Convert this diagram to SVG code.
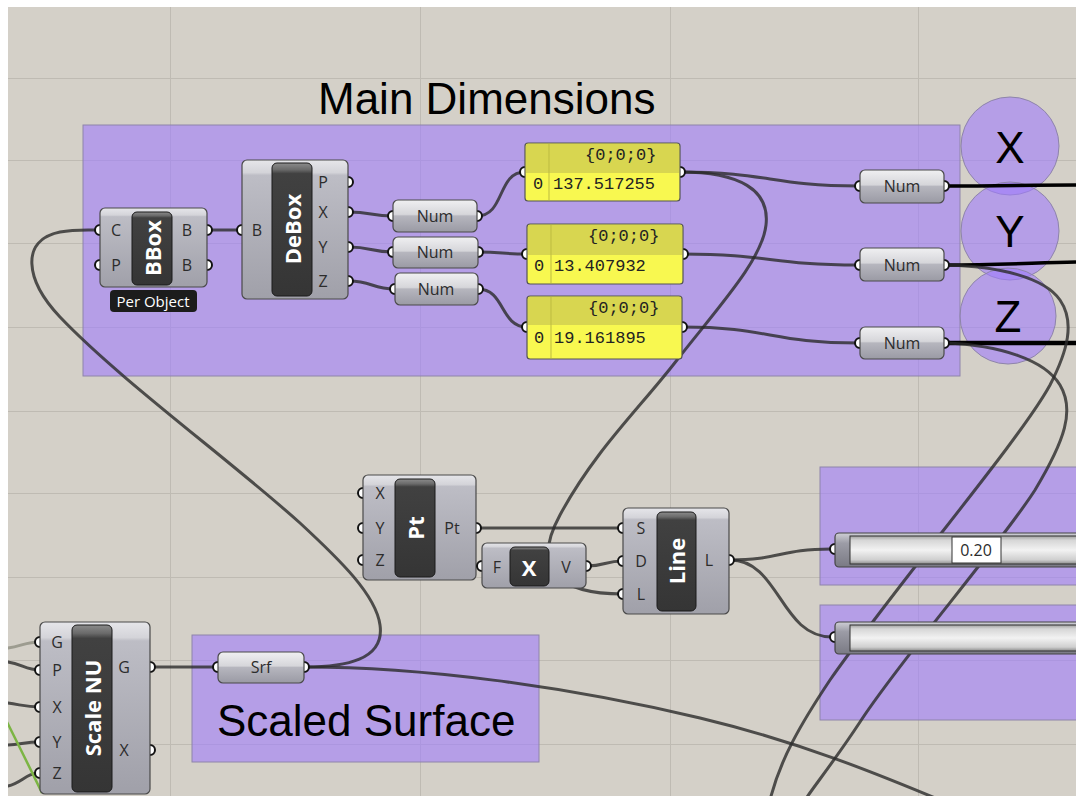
<svg xmlns="http://www.w3.org/2000/svg" width="1076" height="796" viewBox="0 0 1076 796">
<defs>
<linearGradient id="gBody" x1="0" y1="0" x2="0" y2="1">
<stop offset="0" stop-color="#e6e6ea"/><stop offset="0.09" stop-color="#d4d4d9"/><stop offset="0.11" stop-color="#bdbdc5"/><stop offset="1" stop-color="#a0a0a9"/>
</linearGradient>
<linearGradient id="gPill" x1="0" y1="0" x2="0" y2="1">
<stop offset="0" stop-color="#f0f0f2"/><stop offset="0.45" stop-color="#d6d6da"/><stop offset="0.5" stop-color="#b6b6be"/><stop offset="1" stop-color="#9a9aa4"/>
</linearGradient>
<linearGradient id="gCap" x1="0" y1="0" x2="0" y2="1">
<stop offset="0" stop-color="#8c8c8c"/><stop offset="0.05" stop-color="#6a6a6a"/><stop offset="0.08" stop-color="#414141"/><stop offset="1" stop-color="#353535"/>
</linearGradient>
<linearGradient id="gTrack" x1="0" y1="0" x2="0" y2="1">
<stop offset="0" stop-color="#a0a0a0"/><stop offset="0.15" stop-color="#d6d6d6"/><stop offset="0.5" stop-color="#f2f2f2"/><stop offset="0.85" stop-color="#cfcfcf"/><stop offset="1" stop-color="#8c8c8c"/>
</linearGradient>
<linearGradient id="gSCap" x1="0" y1="0" x2="0" y2="1">
<stop offset="0" stop-color="#cfcfd6"/><stop offset="0.3" stop-color="#9c9ca6"/><stop offset="1" stop-color="#7a7a84"/>
</linearGradient>
<style>
.grid{stroke:#bfbbb3;stroke-width:1}
.grp{fill:rgb(160,125,252);fill-opacity:.6;stroke:#8e84aa;stroke-width:1}
.wire{fill:none;stroke:#2a2a2a;stroke-opacity:.8;stroke-width:3;stroke-linecap:round}
.sel{fill:none;stroke:#000;stroke-width:3.5}
.body{fill:url(#gBody);stroke:#4a4a4a;stroke-width:1.2}
.pill{fill:url(#gPill);stroke:#4a4a4a;stroke-width:1.2}
.cap{fill:url(#gCap);stroke:#1a1a1a;stroke-width:1}
.grip{fill:#fff;stroke:#111;stroke-width:2}
.lbl{font-family:"Open Sans","DejaVu Sans",sans-serif;font-size:16px;fill:#2c2c2c;text-anchor:middle;dominant-baseline:central}
.ptxt{font-family:"Open Sans","DejaVu Sans",sans-serif;font-size:16px;fill:#2c2c2c;text-anchor:middle;dominant-baseline:central}
.nick{font-family:"Open Sans","DejaVu Sans",sans-serif;font-weight:bold;font-size:22px;fill:#fff;text-anchor:middle;dominant-baseline:central}
.mono{font-family:"Liberation Mono","Courier New",monospace;font-size:17px;fill:#222}
.big{font-family:"Liberation Sans",Arial,sans-serif;font-size:44px;fill:#000}
.panel{fill:#f8f850;stroke:#555;stroke-width:1.2}
.phead{fill:#d8d650}
</style>
</defs>

<rect x="0" y="0" width="1076" height="796" fill="#d4d0c8"/>
<g id="grid">
<line class="grid" x1="170.5" y1="0" x2="170.5" y2="796"/>
<line class="grid" x1="420.5" y1="0" x2="420.5" y2="796"/>
<line class="grid" x1="670.5" y1="0" x2="670.5" y2="796"/>
<line class="grid" x1="918.5" y1="0" x2="918.5" y2="796"/>
<line class="grid" x1="0" y1="78.5" x2="1076" y2="78.5"/>
<line class="grid" x1="0" y1="160.5" x2="1076" y2="160.5"/>
<line class="grid" x1="0" y1="243.5" x2="1076" y2="243.5"/>
<line class="grid" x1="0" y1="327.5" x2="1076" y2="327.5"/>
<line class="grid" x1="0" y1="411.5" x2="1076" y2="411.5"/>
<line class="grid" x1="0" y1="493.5" x2="1076" y2="493.5"/>
<line class="grid" x1="0" y1="577.5" x2="1076" y2="577.5"/>
<line class="grid" x1="0" y1="660.5" x2="1076" y2="660.5"/>
<line class="grid" x1="0" y1="744.5" x2="1076" y2="744.5"/>
</g>

<g id="group-main-dimensions">
<rect class="grp" x="83" y="125" width="877" height="251"/>
<text class="big" x="318" y="114">Main Dimensions</text>
</g>
<g id="group-x"><circle class="grp" cx="1010" cy="146" r="49"/><text class="big" x="1010" y="147" text-anchor="middle" dominant-baseline="central">X</text></g>
<g id="group-y"><circle class="grp" cx="1010" cy="231" r="49"/><text class="big" x="1010" y="231" text-anchor="middle" dominant-baseline="central">Y</text></g>
<g id="group-z"><circle class="grp" cx="1008" cy="316" r="48"/><text class="big" x="1008" y="316" text-anchor="middle" dominant-baseline="central">Z</text></g>
<g id="group-scaled-surface">
<rect class="grp" x="192" y="635" width="347" height="127"/>
<text class="big" x="217" y="736">Scaled Surface</text>
</g>
<g id="group-slider1"><rect class="grp" x="820" y="467" width="262" height="118"/></g>
<g id="group-slider2"><rect class="grp" x="820" y="605" width="262" height="115"/></g>

<g id="connectors">
<path class="wire" d="M207,230 L242,230"/>
<path class="wire" d="M305,667 C345,667 385,660 380,625 C376,595 340,560 300,523 C230,460 120,380 60,317 C25,280 20,240 60,232 C75,229 90,230 100,230"/>
<path class="wire" d="M349,212 C371,212 371,216 393,216"/>
<path class="wire" d="M349,247 C371,247 371,252 393,252"/>
<path class="wire" d="M349,281 C372,281 372,289 395,289"/>
<path class="wire" d="M477,216 C505,216 497,172 525,172"/>
<path class="wire" d="M478,252 C502,252 503,254 527,254"/>
<path class="wire" d="M478,289 C505,289 500,327 527,327"/>
<path class="wire" d="M680,172 C770,172 770,186 859,186"/>
<path class="wire" d="M683,254 C770,254 770,265 859,265"/>
<path class="wire" d="M682,327 C770,327 770,343 859,343"/>
<path class="wire" d="M680,172 C740,172 770,190 766,225 C762,260 720,305 677,360 C640,408 595,450 560,515 C530,570 560,594 623,594"/>
<path class="sel" d="M945,186 C1000,186 1030,185 1076,185"/>
<path class="sel" d="M945,265 C1000,265 1030,263 1076,262"/>
<path class="sel" d="M945,343 L1076,343" style="stroke-width:4.5"/>
<path class="wire" d="M945,265 C1000,266 1045,278 1060,300 C1075,322 1068,350 1050,385 C1020,440 900,580 830,680 C800,725 780,760 770,800"/>
<path class="wire" d="M945,343 C1000,345 1045,360 1060,385 C1075,410 1065,440 1035,490 C1000,545 900,660 860,722 C835,760 815,785 805,800"/>
<path class="wire" d="M476,528 L623,528"/>
<path class="wire" d="M587,566 C605,566 605,561 623,561"/>
<path class="wire" d="M730,560 C780,560 780,549 831,549"/>
<path class="wire" d="M730,560 C780,560 780,637 832,637"/>
<path class="wire" d="M150,667 L218,667"/>
<path class="wire" d="M305,667 C420,667 560,685 700,718 C800,742 880,775 940,800"/>
<path class="wire" d="M8,648 C22,646 26,642 40,642" style="stroke:#8e8e82"/>
<path class="wire" d="M8,662 C22,664 26,670 40,670"/>
<path class="wire" d="M8,703 C22,705 26,707 40,707"/>
<path class="wire" d="M8,745 C22,744 26,742 40,742"/>
<path class="wire" d="M8,786 C22,783 26,773 40,773"/>
<path d="M7,722 C20,748 32,772 42,793" fill="none" stroke="#7cb544" stroke-width="2.5"/>
</g>

<g id="bbox">
<circle class="grip" cx="100" cy="230" r="5"/><circle class="grip" cx="100" cy="265" r="5"/>
<circle class="grip" cx="207" cy="230" r="5"/><circle class="grip" cx="207" cy="265" r="5"/>
<rect class="body" x="100" y="208" width="107" height="79" rx="5"/>
<rect class="cap" x="132" y="212" width="40" height="73" rx="5"/>
<text class="lbl" x="116" y="230">C</text><text class="lbl" x="116" y="265">P</text>
<text class="lbl" x="187" y="230">B</text><text class="lbl" x="187" y="265">B</text>
<text class="nick" transform="translate(152,248) rotate(-90)">BBox</text>
<rect x="110" y="290" width="87" height="22" rx="4" fill="#1c1c1c"/>
<text x="153" y="301" font-family="Open Sans, DejaVu Sans, sans-serif" font-size="15" fill="#fff" text-anchor="middle" dominant-baseline="central">Per Object</text>
</g>

<g id="debox">
<circle class="grip" cx="242" cy="230" r="5"/>
<circle class="grip" cx="348" cy="182" r="5"/><circle class="grip" cx="348" cy="212" r="5"/>
<circle class="grip" cx="348" cy="247" r="5"/><circle class="grip" cx="348" cy="281" r="5"/>
<rect class="body" x="242" y="160" width="106" height="139" rx="5"/>
<rect class="cap" x="272" y="163" width="40" height="133" rx="5"/>
<text class="lbl" x="257" y="230">B</text>
<text class="lbl" x="323" y="182">P</text><text class="lbl" x="323" y="212">X</text>
<text class="lbl" x="323" y="247">Y</text><text class="lbl" x="323" y="281">Z</text>
<text class="nick" transform="translate(292,229) rotate(-90)">DeBox</text>
</g>

<g id="num-dx">
<circle class="grip" cx="393" cy="216" r="5"/><circle class="grip" cx="477" cy="216" r="5"/>
<rect class="pill" x="393" y="200" width="84" height="32" rx="5"/>
<text class="ptxt" x="435" y="216">Num</text>
</g>
<g id="num-dy">
<circle class="grip" cx="393" cy="252" r="5"/><circle class="grip" cx="478" cy="252" r="5"/>
<rect class="pill" x="393" y="237" width="85" height="31" rx="5"/>
<text class="ptxt" x="435" y="252">Num</text>
</g>
<g id="num-dz">
<circle class="grip" cx="395" cy="289" r="5"/><circle class="grip" cx="478" cy="289" r="5"/>
<rect class="pill" x="395" y="273" width="83" height="32" rx="5"/>
<text class="ptxt" x="436" y="289">Num</text>
</g>

<g id="panel-x">
<circle class="grip" cx="525" cy="172" r="5"/><circle class="grip" cx="680" cy="172" r="5"/>
<rect class="panel" x="525" y="143" width="155" height="58" rx="3"/>
<path class="phead" d="M526,144 H679 V173 H526 Z"/>
<line x1="549" y1="144" x2="549" y2="200" stroke="#bdbb40" stroke-width="1"/>
<text class="mono" x="585" y="160">{0;0;0}</text>
<text class="mono" x="533" y="189">0</text><text class="mono" x="553" y="189">137.517255</text>
</g>
<g id="panel-y">
<circle class="grip" cx="527" cy="254" r="5"/><circle class="grip" cx="683" cy="254" r="5"/>
<rect class="panel" x="527" y="224" width="156" height="60" rx="3"/>
<path class="phead" d="M528,225 H682 V255 H528 Z"/>
<line x1="551" y1="225" x2="551" y2="283" stroke="#bdbb40" stroke-width="1"/>
<text class="mono" x="588" y="241">{0;0;0}</text>
<text class="mono" x="534" y="271">0</text><text class="mono" x="554" y="271">13.407932</text>
</g>
<g id="panel-z">
<circle class="grip" cx="527" cy="327" r="5"/><circle class="grip" cx="682" cy="327" r="5"/>
<rect class="panel" x="527" y="296" width="155" height="63" rx="3"/>
<path class="phead" d="M528,297 H681 V325 H528 Z"/>
<line x1="551" y1="297" x2="551" y2="358" stroke="#bdbb40" stroke-width="1"/>
<text class="mono" x="588" y="313">{0;0;0}</text>
<text class="mono" x="534" y="343">0</text><text class="mono" x="554" y="343">19.161895</text>
</g>

<g id="num-x">
<circle class="grip" cx="860" cy="186" r="5"/><circle class="grip" cx="944" cy="186" r="5"/>
<rect class="pill" x="860" y="170" width="84" height="33" rx="5"/>
<text class="ptxt" x="902" y="186">Num</text>
</g>
<g id="num-y">
<circle class="grip" cx="860" cy="265" r="5"/><circle class="grip" cx="944" cy="265" r="5"/>
<rect class="pill" x="860" y="248" width="84" height="33" rx="5"/>
<text class="ptxt" x="902" y="265">Num</text>
</g>
<g id="num-z">
<circle class="grip" cx="860" cy="343" r="5"/><circle class="grip" cx="944" cy="343" r="5"/>
<rect class="pill" x="860" y="327" width="84" height="32" rx="5"/>
<text class="ptxt" x="902" y="343">Num</text>
</g>

<g id="pt">
<circle class="grip" cx="363" cy="493" r="5"/><circle class="grip" cx="363" cy="528" r="5"/><circle class="grip" cx="363" cy="560" r="5"/>
<circle class="grip" cx="476" cy="528" r="5"/>
<rect class="body" x="363" y="475" width="113" height="105" rx="5"/>
<rect class="cap" x="395" y="479" width="40" height="98" rx="5"/>
<text class="lbl" x="380" y="493">X</text><text class="lbl" x="380" y="528">Y</text><text class="lbl" x="380" y="560">Z</text>
<text class="lbl" x="452" y="528">Pt</text>
<text class="nick" transform="translate(415,528) rotate(-90)">Pt</text>
</g>

<g id="neg-x">
<circle class="grip" cx="482" cy="566" r="5"/><circle class="grip" cx="586" cy="566" r="5"/>
<rect class="body" x="482" y="543" width="104" height="45" rx="5"/>
<rect class="cap" x="510" y="547" width="39" height="39" rx="5"/>
<text class="lbl" x="497" y="567">F</text><text class="lbl" x="566" y="567">V</text>
<text class="nick" x="529" y="567">X</text>
</g>

<g id="line">
<circle class="grip" cx="623" cy="528" r="5"/><circle class="grip" cx="623" cy="561" r="5"/><circle class="grip" cx="623" cy="594" r="5"/>
<circle class="grip" cx="729" cy="560" r="5"/>
<rect class="body" x="623" y="508" width="106" height="106" rx="5"/>
<rect class="cap" x="657" y="512" width="39" height="99" rx="5"/>
<text class="lbl" x="641" y="528">S</text><text class="lbl" x="641" y="561">D</text><text class="lbl" x="641" y="594">L</text>
<text class="lbl" x="709" y="560">L</text>
<text class="nick" transform="translate(676,561) rotate(-90)">Line</text>
</g>

<g id="slider1">
<circle class="grip" cx="835" cy="549" r="5"/>
<rect x="835" y="533" width="250" height="34" rx="4" fill="url(#gSCap)" stroke="#444" stroke-width="1.2"/>
<rect x="850" y="536" width="230" height="28" fill="url(#gTrack)" stroke="#333" stroke-width="1"/>
<rect x="952" y="537" width="49" height="26" fill="#fff" stroke="#333" stroke-width="1"/>
<text class="ptxt" x="976" y="550">0.20</text>
</g>
<g id="slider2">
<circle class="grip" cx="835" cy="637" r="5"/>
<rect x="835" y="622" width="250" height="32" rx="4" fill="url(#gSCap)" stroke="#444" stroke-width="1.2"/>
<rect x="850" y="625" width="230" height="26" fill="url(#gTrack)" stroke="#333" stroke-width="1"/>
</g>

<g id="scale-nu">
<circle class="grip" cx="40" cy="642" r="5"/><circle class="grip" cx="40" cy="670" r="5"/><circle class="grip" cx="40" cy="707" r="5"/>
<circle class="grip" cx="40" cy="742" r="5"/><circle class="grip" cx="40" cy="773" r="5"/>
<circle class="grip" cx="150" cy="667" r="5"/><circle class="grip" cx="150" cy="750" r="5"/>
<rect class="body" x="40" y="622" width="110" height="172" rx="5"/>
<rect class="cap" x="72" y="625" width="40" height="167" rx="5"/>
<text class="lbl" x="57" y="642">G</text><text class="lbl" x="57" y="670">P</text><text class="lbl" x="57" y="707">X</text>
<text class="lbl" x="57" y="742">Y</text><text class="lbl" x="57" y="773">Z</text>
<text class="lbl" x="124" y="667">G</text><text class="lbl" x="124" y="750">X</text>
<text class="nick" transform="translate(92,708) rotate(-90)">Scale NU</text>
</g>

<g id="srf">
<circle class="grip" cx="218" cy="667" r="5"/><circle class="grip" cx="304" cy="667" r="5"/>
<rect class="pill" x="218" y="652" width="86" height="31" rx="5"/>
<text class="ptxt" x="261" y="667">Srf</text>
</g>

<rect x="0" y="0" width="1076" height="7" fill="#fff"/>
<rect x="0" y="0" width="8" height="796" fill="#fff"/>
</svg>
